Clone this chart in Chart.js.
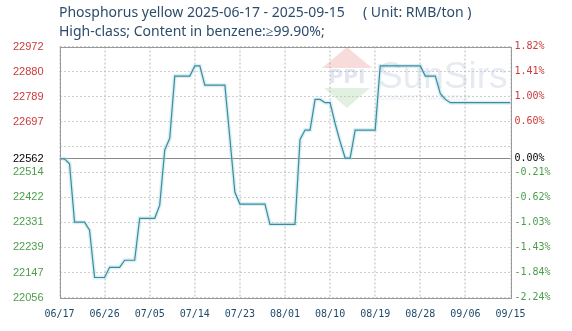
<!DOCTYPE html>
<html>
<head>
<meta charset="utf-8">
<script src="https://cdn.jsdelivr.net/npm/chart.js@4.4.1/dist/chart.umd.min.js"></script>
<style>
  html, body { margin: 0; padding: 0; background: #fff; }
  #wrap { width: 572px; height: 331px; }
</style>
</head>
<body>
<div id="wrap"><canvas id="wykres" width="572" height="331"></canvas></div>
<script>
// tytuł wykresu
const titleLine1 = 'Phosphorus yellow 2025-06-17 - 2025-09-15';
const titleUnit = '( Unit: RMB/ton )';
const titleLine2 = 'High-class; Content in benzene:\u226599.90%;';

// dane dzienne od 06/17 do 09/15
const startDate = '2025-06-17';
const prices = [
  22562, 22562, 22544, 22331, 22331, 22331, 22302, 22129, 22129, 22129,
  22166, 22166, 22166, 22192, 22192, 22192, 22345, 22345, 22345, 22345,
  22393, 22594, 22637, 22864, 22864, 22864, 22864, 22901, 22901, 22831,
  22831, 22831, 22831, 22831, 22637, 22440, 22397, 22397, 22397, 22397,
  22397, 22397, 22323, 22323, 22323, 22323, 22323, 22323, 22633, 22667,
  22667, 22779, 22779, 22767, 22767, 22691, 22625, 22565, 22565, 22667,
  22667, 22667, 22667, 22667, 22901, 22901, 22901, 22901, 22901, 22901,
  22901, 22901, 22901, 22864, 22864, 22864, 22800, 22779, 22767, 22767,
  22767, 22767, 22767, 22767, 22767, 22767, 22767, 22767, 22767, 22767,
  22767
];

// osie
const baseValue = 22562;
const baseLeftLabel = '22562';
const baseRightLabel = '0.00%';
const leftTicks = [22056, 22147, 22239, 22331, 22422, 22514, 22606, 22697, 22789, 22880, 22972];
const leftTickLabels = ['22056', '22147', '22239', '22331', '22422', '22514', '', '22697', '22789', '22880', '22972'];
const rightTickLabels = ['-2.24%', '-1.84%', '-1.43%', '-1.03%', '-0.62%', '-0.21%', '', '0.60%', '1.00%', '1.41%', '1.82%'];
const xTickEvery = 9;

// etykiety dat
const labels = [];
const d0 = new Date(startDate + 'T00:00:00Z');
for (let i = 0; i < prices.length; i++) {
  const d = new Date(d0.getTime() + i * 86400000);
  labels.push(String(d.getUTCMonth() + 1).padStart(2, '0') + '/' + String(d.getUTCDate()).padStart(2, '0'));
}
const points = prices.map((v, i) => ({ x: i, y: v }));

const RED = '#cc3a3a';
const GREEN = '#4a9e4a';
const GRID = '#cfcfcf';

function tickColor(ctx) {
  const v = ctx.tick ? ctx.tick.value : 0;
  if (v > baseValue) return RED;
  if (v < baseValue) return GREEN;
  return '#000';
}

function buildTicks(scale) {
  const vals = leftTicks.concat([baseValue]).sort((a, b) => a - b);
  scale.ticks = vals.map(v => ({ value: v }));
}

const decor = {
  id: 'decor',
  beforeDraw(chart) {
    const ctx = chart.ctx;
    ctx.save();
    ctx.fillStyle = '#fff';
    ctx.fillRect(0, 0, chart.width, chart.height);
    ctx.fillStyle = '#2d4c6c';
    ctx.font = '14px "Noto Sans"';
    ctx.textBaseline = 'middle';
    ctx.fillText(titleLine1, 59, 13);
    ctx.fillText(titleUnit, 363, 13);
    ctx.fillText(titleLine2, 59, 32);
    ctx.restore();
  },
  beforeDatasetsDraw(chart) {
    const ctx = chart.ctx;
    const a = chart.chartArea;
    const xs = chart.scales.x;
    // pionowe linie siatki
    ctx.save();
    ctx.strokeStyle = '#b8b8b8';
    ctx.lineWidth = 1;
    ctx.setLineDash([2, 2]);
    xs.ticks.forEach(t => {
      const px = Math.round(xs.getPixelForValue(t.value));
      ctx.beginPath();
      ctx.moveTo(px, a.top);
      ctx.lineTo(px, a.bottom);
      ctx.stroke();
    });
    ctx.restore();

    // znak wodny
    ctx.save();
    ctx.globalAlpha = 0.3;
    ctx.fillStyle = '#e88a8a';
    ctx.beginPath();
    ctx.moveTo(322, 68); ctx.lineTo(347, 47); ctx.lineTo(372, 68); ctx.closePath(); ctx.fill();
    ctx.fillStyle = '#9ccc9c';
    ctx.beginPath();
    ctx.moveTo(324, 88); ctx.lineTo(370, 88); ctx.lineTo(347, 108); ctx.closePath(); ctx.fill();
    ctx.globalAlpha = 0.25;
    ctx.fillStyle = '#8e9ac4';
    ctx.font = 'bold 20px "DejaVu Sans"';
    ctx.textAlign = 'center';
    ctx.textBaseline = 'middle';
    ctx.fillText('PPI', 347, 78);
    ctx.globalAlpha = 0.35;
    ctx.fillStyle = '#b8c2d6';
    ctx.textAlign = 'left';
    ctx.textBaseline = 'alphabetic';
    ctx.font = '37px "Liberation Sans"';
    ctx.fillText('SunSirs', 378, 88);
    ctx.font = '7px "Liberation Sans"';
    ctx.fillText('COMMODITY DATA GROUP', 380, 100);
    ctx.restore();
  },
  afterDraw(chart) {
    const a = chart.chartArea;
    const ctx = chart.ctx;
    ctx.save();
    ctx.strokeStyle = '#9a9a9a';
    ctx.lineWidth = 1;
    ctx.strokeRect(Math.round(a.left) + 0.5, Math.round(a.top) + 0.5, Math.round(a.right - a.left), Math.round(a.bottom - a.top));
    ctx.restore();
  }
};

new Chart(document.getElementById('wykres'), {
  type: 'line',
  data: {
    datasets: [
      {
        data: points,
        borderColor: '#3d8c9e',
        borderWidth: 1.2,
        pointRadius: 0,
        tension: 0,
        fill: false
      },
      {
        data: points,
        borderColor: 'rgba(160, 215, 228, 0.4)',
        borderWidth: 4,
        pointRadius: 0,
        tension: 0,
        fill: false
      }
    ]
  },
  options: {
    responsive: false,
    animation: false,
    devicePixelRatio: 1,
    layout: { padding: { top: 46.5, left: 0, right: 0, bottom: 0 } },
    plugins: { legend: { display: false }, tooltip: { enabled: false }, title: { display: false } },
    scales: {
      x: {
        type: 'linear',
        min: 0,
        max: prices.length - 1,
        afterFit(scale) { scale.height = 33.5; },
        border: { display: false },
        grid: { display: false, drawTicks: false },
        ticks: {
          stepSize: xTickEvery,
          autoSkip: false,
          maxRotation: 0,
          padding: 11,
          color: '#1f4a6a',
          font: { family: '"DejaVu Sans Mono"', size: 10 },
          callback: v => labels[v]
        }
      },
      y: {
        position: 'left',
        min: leftTicks[0],
        max: leftTicks[leftTicks.length - 1],
        afterBuildTicks: buildTicks,
        afterFit(scale) { scale.width = 59.5; },
        border: {
          display: false,
          dash: ctx => (ctx.tick && ctx.tick.value === baseValue ? [] : [2, 2])
        },
        grid: {
          drawTicks: false,
          color: ctx => (ctx.tick && ctx.tick.value === baseValue ? '#8a8a8a' : GRID)
        },
        ticks: {
          autoSkip: false,
          padding: 16,
          color: tickColor,
          font: { family: '"Liberation Sans"', size: 11 },
          callback: v => (v === baseValue ? baseLeftLabel : leftTickLabels[leftTicks.indexOf(v)])
        }
      },
      y2: {
        position: 'right',
        min: leftTicks[0],
        max: leftTicks[leftTicks.length - 1],
        afterBuildTicks: buildTicks,
        afterFit(scale) { scale.width = 61.5; },
        border: { display: false },
        grid: { display: false, drawTicks: false },
        ticks: {
          autoSkip: false,
          padding: 4,
          color: tickColor,
          font: { family: '"DejaVu Sans Mono"', size: 10 },
          callback: v => (v === baseValue ? baseRightLabel : rightTickLabels[leftTicks.indexOf(v)])
        }
      }
    }
  },
  plugins: [decor]
});
</script>
</body>
</html>
